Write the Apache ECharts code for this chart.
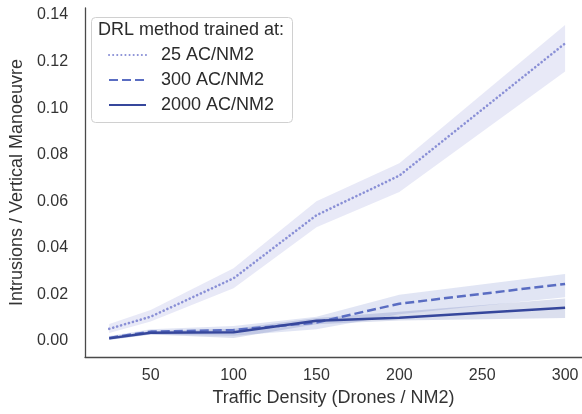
<!DOCTYPE html>
<html>
<head>
<meta charset="utf-8">
<script src="https://cdn.jsdelivr.net/npm/echarts@6/dist/echarts.min.js"></script>
<style>html,body{margin:0;padding:0;background:#fff}#c{width:582px;height:414px}</style>
</head>
<body>
<div id="c"></div>
<script>
const xValues = [25, 50, 100, 150, 200, 300];
const xTicks = [50, 100, 150, 200, 250, 300];
const yTicks = [0, 0.02, 0.04, 0.06, 0.08, 0.10, 0.12, 0.14];
const seriesNames = ['25 AC/NM2', '300 AC/NM2', '2000 AC/NM2'];
const mean25 = [0.0052, 0.0104, 0.0269, 0.0540, 0.0710, 0.1278];
const low25 = [0.0034, 0.0083, 0.0226, 0.0488, 0.0640, 0.1157];
const high25 = [0.0073, 0.0133, 0.0312, 0.0600, 0.0763, 0.1357];
const mean300 = [0.0013, 0.0040, 0.0047, 0.0079, 0.0160, 0.0245];
const low300 = [0.0005, 0.0028, 0.0022, 0.0050, 0.0115, 0.0188];
const high300 = [0.0021, 0.0050, 0.0064, 0.0104, 0.0198, 0.0288];
const mean2000 = [0.0011, 0.0035, 0.0037, 0.0087, 0.0100, 0.0143];
const low2000 = [0.0004, 0.0028, 0.0013, 0.0072, 0.0088, 0.0098];
const high2000 = [0.0018, 0.0043, 0.0052, 0.0098, 0.0125, 0.0182];

const colors = ['#8a90d6', '#5a6dc2', '#36479c'];
const bandColors = ['rgba(141,147,216,0.2)', 'rgba(90,109,194,0.18)', 'rgba(58,75,159,0.18)'];
const lineTypes = [[0.1, 4], [9, 4], 'solid'];
const caps = ['round', 'butt', 'butt'];
const widths = [2.6, 2.5, 2.5];
const means = [mean25, mean300, mean2000];
const lows = [low25, low300, low2000];
const highs = [high25, high300, high2000];
const FONT = 'Liberation Sans, Arial, sans-serif';

const series = [];
for (let i = 0; i < 3; i++) {
  const lo = lows[i], hi = highs[i], fill = bandColors[i];
  series.push({
    type: 'custom', silent: true, z: 1,
    data: xValues.map((x, k) => [x, lo[k], hi[k]]),
    encode: { x: 0, y: [1, 2] },
    renderItem: function (params, api) {
      if (params.dataIndex !== 0) return null;
      const pts = [];
      for (let k = 0; k < xValues.length; k++) pts.push(api.coord([xValues[k], hi[k]]));
      for (let k = xValues.length - 1; k >= 0; k--) pts.push(api.coord([xValues[k], lo[k]]));
      return { type: 'polygon', shape: { points: pts }, style: { fill: fill } };
    }
  });
}
for (let i = 0; i < 3; i++) {
  series.push({
    name: seriesNames[i], type: 'line', symbol: 'none', z: 3,
    lineStyle: { color: colors[i], width: widths[i], type: lineTypes[i], cap: caps[i] },
    itemStyle: { color: colors[i] },
    data: xValues.map((x, k) => [x, means[i][k]])
  });
}

const chart = echarts.init(document.getElementById('c'));
chart.setOption({
  animation: false,
  backgroundColor: '#fff',
  grid: { left: 82, right: 0, top: 8, bottom: 57, containLabel: false },
  xAxis: {
    type: 'value', min: 10.4, max: 310.2,
    axisLine: { show: true, onZero: false, lineStyle: { color: '#4a4a4a', width: 1.3 } },
    axisTick: { show: false },
    splitLine: { show: false },
    axisLabel: { customValues: xTicks, fontSize: 16, color: '#333', fontFamily: FONT, margin: 11 },
    name: 'Traffic Density (Drones / NM2)', nameLocation: 'middle', nameGap: 32,
    nameTextStyle: { fontSize: 18, color: '#333', fontFamily: FONT }
  },
  yAxis: {
    type: 'value', min: -0.0069, max: 0.143,
    axisLine: { show: true, onZero: false, lineStyle: { color: '#4a4a4a', width: 1.3 } },
    axisTick: { show: false },
    splitLine: { show: false },
    axisLabel: { customValues: yTicks, fontSize: 16, color: '#333', fontFamily: FONT, margin: 17,
      formatter: v => v.toFixed(2) },
    name: 'Intrusions / Vertical Manoeuvre', nameLocation: 'middle', nameGap: 58,
    nameTextStyle: { fontSize: 18, color: '#333', fontFamily: FONT }
  },
  legend: {
    data: seriesNames, orient: 'vertical', left: 91, top: 17, z: 10,
    padding: [29, 10, 8, 17], itemGap: 7, itemWidth: 37, itemHeight: 18,
    itemStyle: { opacity: 0 },
    textStyle: { fontSize: 18, color: '#2b2b2b', fontFamily: FONT, lineHeight: 18, padding: [0, 0, 0, 10] }
  },
  graphic: [
    { type: 'rect', left: 91, top: 17, z: 0, silent: true,
      shape: { width: 201, height: 105, r: 4 },
      style: { fill: '#fff', stroke: '#d0d0d0', lineWidth: 1 } },
    { type: 'text', left: 98, top: 21, z: 101, silent: true,
      style: { text: 'DRL method trained at:', fontSize: 18, fill: '#2b2b2b', fontFamily: FONT } }
  ],
  series: series
});
</script>
</body>
</html>
